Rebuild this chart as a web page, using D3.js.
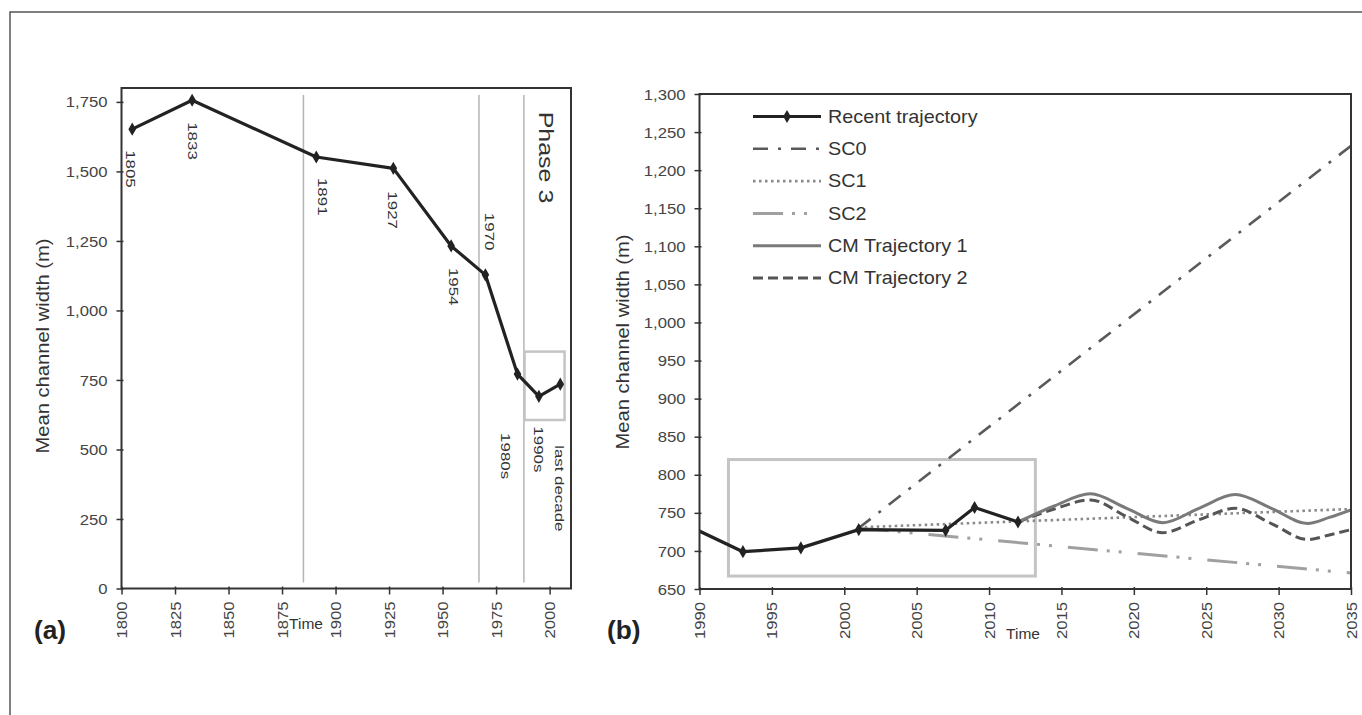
<!DOCTYPE html>
<html><head><meta charset="utf-8">
<script src="https://cdn.jsdelivr.net/npm/d3@7"></script>
<style>
html,body{margin:0;padding:0;background:#fff;}
svg{display:block;}
text{font-family:"Liberation Sans",Arial,Helvetica,sans-serif;}
</style></head><body>
<svg id="chart" width="1362" height="715"></svg>
<script>
// ---------------- DATA ----------------
// Panel (a): historical trajectory
const histYears  = [1805, 1833, 1891, 1927, 1954, 1970, 1985, 1995, 2005];
const histWidths = [1652, 1756, 1552, 1511, 1232, 1128, 771, 691, 735];
const histLabels = ["1805", "1833", "1891", "1927", "1954", "1970", "1980s", "1990s", "last decade"];
const dividerYears = [1885, 1967, 1988];
const phaseLabel = "Phase  3";
const aXTicks = [1800, 1825, 1850, 1875, 1900, 1925, 1950, 1975, 2000];
const aYTicks = [0, 250, 500, 750, 1000, 1250, 1500, 1750];
const aBoxYears = [1988.3, 2007.0];
const aBoxWidths = [606, 852];

// Panel (b): recent trajectory and scenarios
const recentYears  = [1985, 1993, 1997, 2001, 2007, 2009, 2012];
const recentWidths = [771, 699, 704, 728, 727, 757, 738];
const sc0Years = [2001, 2035];
const sc0Widths = [730, 1232];
const sc1Years = [2001, 2035];
const sc1Widths = [731, 755];
const sc2Years = [2001, 2035];
const sc2Widths = [730, 671];
const cmYears   = [2012, 2014.5, 2017, 2019.5, 2022, 2024.5, 2027, 2029.5, 2032, 2033.5, 2035];
const cm1Widths = [738, 759, 775, 756, 737, 756, 774, 756, 736, 744, 754];
const cm2Widths = [738, 755, 767, 745, 724, 741, 756, 736, 715, 721, 728];
const bXTicks = [1990, 1995, 2000, 2005, 2010, 2015, 2020, 2025, 2030, 2035];
const bYTicks = [650, 700, 750, 800, 850, 900, 950, 1000, 1050, 1100, 1150, 1200, 1250, 1300];
const bBoxYears = [1992.0, 2013.2];
const bBoxWidths = [667, 820];
const seriesNames = ["Recent trajectory", "SC0", "SC1", "SC2", "CM Trajectory 1", "CM Trajectory  2"];

// ---------------- LAYOUT / STYLE ----------------
const FONT_TICK = 14.5, STRETCH = 1.15;
const labelOffsets = [[-2, 21], [0, 22], [6, 21], [-1, 23], [2, 22], [4, -62], [-12, 59], [0, 30], [-1, 61]];
const styles = {
  "Recent trajectory": {stroke: "#222", width: 3.2, dash: null, marker: true},
  "SC0": {stroke: "#5a5a5a", width: 2.6, dash: "15,10,3,10"},
  "SC1": {stroke: "#8a8a8a", width: 2.6, dash: "2.5,3.5"},
  "SC2": {stroke: "#a0a0a0", width: 3, dash: "30,9,3,9,3,16"},
  "CM Trajectory 1": {stroke: "#7a7a7a", width: 3, dash: null},
  "CM Trajectory  2": {stroke: "#555", width: 3, dash: "10,5"}
};

const svg = d3.select("#chart");
svg.append("rect").attr("width", 1362).attr("height", 715).attr("fill", "#fff");

// outer figure border
svg.append("path").attr("d", "M10,715 L10,12 L1362,12").attr("fill", "none").attr("stroke", "#555").attr("stroke-width", 1.5);

function stext(g, x, y, str, o) {
  o = Object.assign({size: 14, sx: 1, rot: 0, anchor: "start", dy: "0.35em", fill: "#333", weight: "normal"}, o || {});
  return g.append("text")
    .attr("transform", `translate(${x},${y}) rotate(${o.rot}) scale(${o.sx},1)`)
    .attr("font-size", o.size).attr("text-anchor", o.anchor).attr("dy", o.dy)
    .attr("font-weight", o.weight).attr("fill", o.fill).text(str);
}

function leftAxis(scale, ticks, x0) {
  const a = svg.append("g").attr("transform", `translate(${x0},0)`)
    .call(d3.axisLeft(scale).tickValues(ticks).tickFormat(d3.format(",")).tickSize(5));
  a.select(".domain").remove();
  a.selectAll(".tick line").attr("x1", 2).attr("x2", -5).attr("stroke", "#333").attr("stroke-width", 1.5);
  a.selectAll(".tick text").attr("x", null).attr("dy", "0.35em")
    .attr("transform", `translate(-14,0) scale(${STRETCH},1)`)
    .attr("font-size", FONT_TICK).attr("fill", "#444");
}
function bottomAxis(scale, ticks, y0) {
  const a = svg.append("g").attr("transform", `translate(0,${y0})`)
    .call(d3.axisBottom(scale).tickValues(ticks).tickFormat(d3.format("d")).tickSize(5));
  a.select(".domain").remove();
  a.selectAll(".tick line").attr("y1", -2).attr("y2", 6).attr("stroke", "#333").attr("stroke-width", 1.5);
  a.selectAll(".tick text").attr("y", null).attr("dy", "0.35em").attr("text-anchor", "end")
    .attr("transform", `translate(0,13) rotate(-90) scale(${STRETCH},1)`)
    .attr("font-size", FONT_TICK).attr("fill", "#444");
}

// ================= PANEL (a) =================
const ax = d3.scaleLinear().domain([1800, 2010]).range([121.5, 571]);
const ay = d3.scaleLinear().domain([0, 1800]).range([588.5, 88]);
const gA = svg.append("g");

// dividers
gA.selectAll("line.div").data(dividerYears).join("line")
  .attr("x1", d => ax(d)).attr("x2", d => ax(d))
  .attr("y1", ay(1775)).attr("y2", ay(22))
  .attr("stroke", "#b5b5b5").attr("stroke-width", 1.5);

// grey box
gA.append("rect")
  .attr("x", ax(aBoxYears[0])).attr("y", ay(aBoxWidths[1]))
  .attr("width", ax(aBoxYears[1]) - ax(aBoxYears[0]))
  .attr("height", ay(aBoxWidths[0]) - ay(aBoxWidths[1]))
  .attr("fill", "none").attr("stroke", "#c4c4c4").attr("stroke-width", 2.5);

const histData = histYears.map((y, i) => ({year: y, w: histWidths[i], label: histLabels[i], off: labelOffsets[i]}));
gA.append("path").datum(histData)
  .attr("d", d3.line().x(d => ax(d.year)).y(d => ay(d.w)))
  .attr("fill", "none").attr("stroke", "#222").attr("stroke-width", 3.2).attr("stroke-linejoin", "round");
gA.selectAll("path.mk").data(histData).join("path")
  .attr("transform", d => `translate(${ax(d.year)},${ay(d.w)})`)
  .attr("d", d3.symbol(d3.symbolDiamond, 50)).attr("fill", "#222");

histData.forEach(d => {
  stext(gA, ax(d.year) + d.off[0], ay(d.w) + d.off[1], d.label, {size: 13, sx: 1.3, rot: 90, fill: "#333"});
});
stext(gA, ax(1998.6), ay(1715), phaseLabel, {size: 20.5, sx: 1.22, rot: 90, fill: "#333"});

// frame + axes
svg.append("rect").attr("x", 121.5).attr("y", 88).attr("width", 571 - 121.5).attr("height", 588.5 - 88)
  .attr("fill", "none").attr("stroke", "#333").attr("stroke-width", 2);
leftAxis(ay, aYTicks, 121.5);
bottomAxis(ax, aXTicks, 588.5);

stext(svg, 43, 346, "Mean channel width  (m)", {size: 18, sx: 1.12, rot: -90, anchor: "middle", fill: "#333"});
stext(svg, 306, 624, "Time", {size: 15.5, sx: 1.0, anchor: "middle", fill: "#333"});
stext(svg, 34, 630, "(a)", {size: 25, sx: 1.05, fill: "#222", weight: "bold"});

// ================= PANEL (b) =================
const bx = d3.scaleLinear().domain([1990, 2035]).range([699.5, 1351]);
const by = d3.scaleLinear().domain([650, 1300]).range([589, 94]);
svg.append("clipPath").attr("id", "clipB").append("rect")
  .attr("x", 699.5).attr("y", 94).attr("width", 1351 - 699.5).attr("height", 589 - 94);
const gB = svg.append("g").attr("clip-path", "url(#clipB)");

gB.append("rect")
  .attr("x", bx(bBoxYears[0])).attr("y", by(bBoxWidths[1]))
  .attr("width", bx(bBoxYears[1]) - bx(bBoxYears[0]))
  .attr("height", by(bBoxWidths[0]) - by(bBoxWidths[1]))
  .attr("fill", "none").attr("stroke", "#c4c4c4").attr("stroke-width", 3);

const zip = (ys, ws) => ys.map((y, i) => ({year: y, w: ws[i]}));
const series = [
  {name: "SC2", data: zip(sc2Years, sc2Widths), curve: d3.curveLinear},
  {name: "SC1", data: zip(sc1Years, sc1Widths), curve: d3.curveLinear},
  {name: "SC0", data: zip(sc0Years, sc0Widths), curve: d3.curveLinear},
  {name: "CM Trajectory  2", data: zip(cmYears, cm2Widths), curve: d3.curveMonotoneX},
  {name: "CM Trajectory 1", data: zip(cmYears, cm1Widths), curve: d3.curveMonotoneX},
  {name: "Recent trajectory", data: zip(recentYears, recentWidths), curve: d3.curveLinear}
];
series.forEach(s => {
  const st = styles[s.name];
  gB.append("path").datum(s.data)
    .attr("d", d3.line().curve(s.curve).x(d => bx(d.year)).y(d => by(d.w)))
    .attr("fill", "none").attr("stroke", st.stroke).attr("stroke-width", st.width)
    .attr("stroke-dasharray", st.dash).attr("stroke-linejoin", "round");
  if (st.marker) {
    gB.selectAll(null).data(s.data).join("path")
      .attr("transform", d => `translate(${bx(d.year)},${by(d.w)})`)
      .attr("d", d3.symbol(d3.symbolDiamond, 50)).attr("fill", st.stroke);
  }
});

svg.append("rect").attr("x", 699.5).attr("y", 94).attr("width", 1351 - 699.5).attr("height", 589 - 94)
  .attr("fill", "none").attr("stroke", "#333").attr("stroke-width", 2);
leftAxis(by, bYTicks, 699.5);
bottomAxis(bx, bXTicks, 589);

// legend
const lg = svg.append("g");
seriesNames.forEach((n, i) => {
  const st = styles[n];
  const yy = 116.5 + i * 32.3;
  lg.append("line").attr("x1", 753).attr("x2", 821).attr("y1", yy).attr("y2", yy)
    .attr("stroke", st.stroke).attr("stroke-width", st.width).attr("stroke-dasharray", st.dash);
  if (st.marker) lg.append("path").attr("transform", `translate(787,${yy})`).attr("d", d3.symbol(d3.symbolDiamond, 50)).attr("fill", st.stroke);
  stext(lg, 828, yy, n, {size: 18, sx: 1.1, fill: "#333"});
});

stext(svg, 623, 342, "Mean channel width  (m)", {size: 18, sx: 1.12, rot: -90, anchor: "middle", fill: "#333"});
stext(svg, 1023, 634, "Time", {size: 15.5, sx: 1.0, anchor: "middle", fill: "#333"});
stext(svg, 607, 630, "(b)", {size: 25, sx: 1.05, fill: "#222", weight: "bold"});
</script>
</body></html>
